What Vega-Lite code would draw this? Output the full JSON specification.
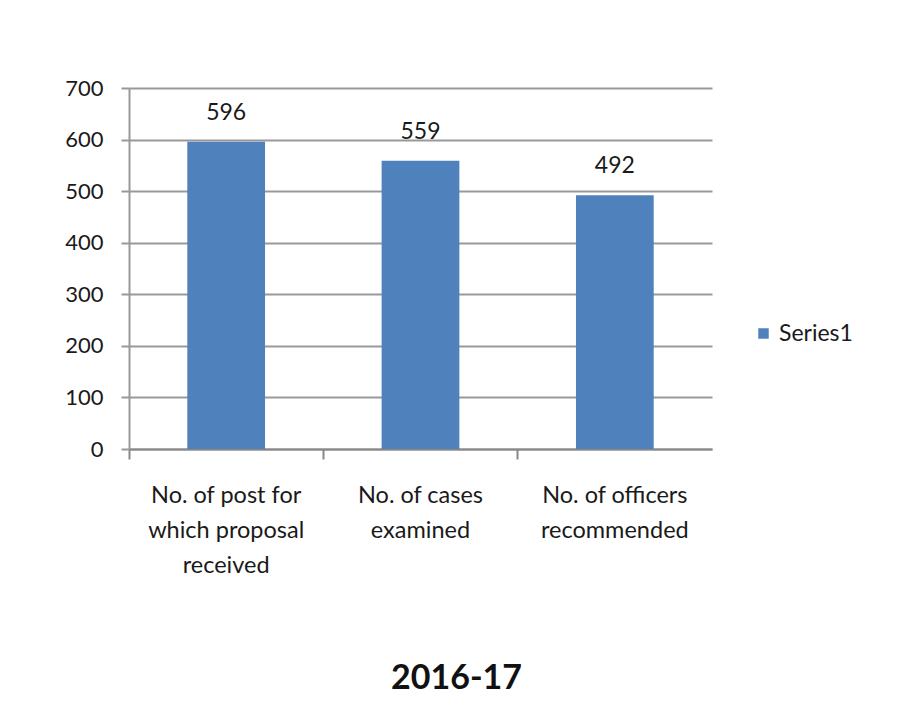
{
  "$schema": "https://vega.github.io/schema/vega-lite/v6.json",
  "width": 583,
  "height": 361,
  "autosize": "none",
  "padding": {"left": 129, "top": 88, "right": 187, "bottom": 268},
  "background": "white",
  "config": {
    "font": "Lato",
    "view": {"stroke": null}
  },
  "title": {
    "text": "2016-17",
    "orient": "bottom",
    "fontSize": 34,
    "fontWeight": "bold",
    "font": "Lato",
    "color": "#111111",
    "offset": 85,
    "dx": 36,
    "anchor": "middle"
  },
  "data": {
    "values": [
      {"category": "No. of post for|which proposal|received", "value": 596, "series": "Series1"},
      {"category": "No. of cases|examined", "value": 559, "series": "Series1"},
      {"category": "No. of officers|recommended", "value": 492, "series": "Series1"}
    ]
  },
  "encoding": {
    "x": {
      "field": "category",
      "type": "nominal",
      "sort": null,
      "scale": {"paddingInner": 0.6, "paddingOuter": 0.3},
      "axis": {
        "title": null,
        "labelAngle": 0,
        "labelExpr": "split(datum.label, '|')",
        "labelFontSize": 23.5,
        "labelColor": "#1a1a1a",
        "labelLineHeight": 35,
        "labelBaseline": "top",
        "labelPadding": 24,
        "tickSize": 10,
        "tickColor": "#888888",
        "tickWidth": 2,
        "bandPosition": -0.75,
        "domainColor": "#888888",
        "domainWidth": 2,
        "labelLimit": 0
      }
    },
    "y": {
      "field": "value",
      "type": "quantitative",
      "scale": {"domain": [0, 700], "nice": false},
      "axis": {
        "title": null,
        "values": [0, 100, 200, 300, 400, 500, 600, 700],
        "labelFontSize": 22,
        "labelColor": "#1a1a1a",
        "labelPadding": 18,
        "tickSize": 8,
        "tickColor": "#999999",
        "tickWidth": 2,
        "gridColor": "#999999",
        "gridWidth": 2,
        "domainColor": "#999999",
        "domainWidth": 2
      }
    }
  },
  "layer": [
    {
      "mark": {"type": "bar"},
      "encoding": {
        "color": {
          "field": "series",
          "type": "nominal",
          "scale": {"range": ["#4F81BD"]},
          "legend": {
            "title": null,
            "orient": "none",
            "legendX": 623,
            "legendY": 234,
            "symbolType": "square",
            "symbolSize": 110,
            "symbolStrokeWidth": 0,
            "labelFontSize": 23,
            "labelColor": "#1a1a1a",
            "labelOffset": 4
          }
        }
      }
    },
    {
      "mark": {"type": "text", "baseline": "middle", "dy": -29, "fontSize": 23, "color": "#1a1a1a"},
      "encoding": {
        "text": {"field": "value", "type": "quantitative"}
      }
    }
  ]
}
